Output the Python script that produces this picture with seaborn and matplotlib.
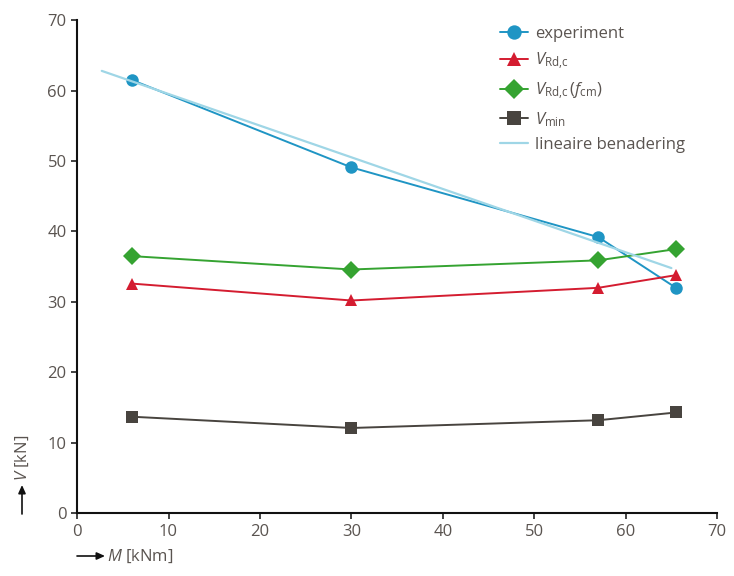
import pandas as pd
import numpy as np
import matplotlib
matplotlib.use("Agg")
import matplotlib.pyplot as plt
import seaborn as sns
from matplotlib.patches import FancyArrowPatch

# M [kNm] values of the four tests
moment = [6.0, 30.0, 57.0, 65.5]

# V [kN] per series
v_experiment = [61.5, 49.1, 39.2, 32.0]
v_rdc = [32.6, 30.2, 32.0, 33.8]
v_rdc_fcm = [36.5, 34.6, 35.9, 37.5]
v_min = [13.7, 12.1, 13.2, 14.3]

# linear approximation (end points)
fit_m = [2.7, 65.0]
fit_v = [62.8, 34.8]

x_ticks = [0, 10, 20, 30, 40, 50, 60, 70]
y_ticks = [0, 10, 20, 30, 40, 50, 60, 70]

sns.set_style("ticks")
plt.rcParams['font.family'] = ['Open Sans', 'DejaVu Sans']
plt.rcParams['mathtext.fontset'] = 'custom'
plt.rcParams['mathtext.rm'] = 'Open Sans'
plt.rcParams['mathtext.it'] = 'Open Sans:italic'

TEXT = "#5a5450"

fig = plt.figure(figsize=(7.34, 5.76), dpi=100)
ax = fig.add_axes([0.105, 0.109, 0.872, 0.856])

series = [
    ("experiment", v_experiment, "#1f95c4", "o", 9),
    (r"$V_{\mathrm{Rd{,}c}}$", v_rdc, "#d41c30", "^", 9),
    (r"$V_{\mathrm{Rd{,}c}}\,(f_{\mathrm{cm}})$", v_rdc_fcm, "#35a331", "D", 9),
    (r"$V_{\mathrm{min}}$", v_min, "#48443f", "s", 9),
]
for label, vals, color, marker, ms in series:
    df = pd.DataFrame({"M": moment, "V": vals})
    sns.lineplot(data=df, x="M", y="V", ax=ax, color=color, marker=marker,
                 markersize=ms, markeredgewidth=0, linewidth=1.4, label=label)

fit_df = pd.DataFrame({"M": fit_m, "V": fit_v})
sns.lineplot(data=fit_df, x="M", y="V", ax=ax, color="#9fd6e6",
             linewidth=1.6, label="lineaire benadering")

ax.set_xlim(0, 70)
ax.set_ylim(0, 70)
ax.set_xticks(x_ticks)
ax.set_yticks(y_ticks)
ax.set_xlabel("")
ax.set_ylabel("")
ax.tick_params(labelsize=12, colors="#222222", labelcolor=TEXT, length=4, width=1.2)
for s in ["left", "bottom"]:
    ax.spines[s].set_linewidth(1.5)
    ax.spines[s].set_color("#111111")
sns.despine(ax=ax)

leg = ax.legend(loc="upper left", bbox_to_anchor=(0.637, 1.018), frameon=False,
                fontsize=12, handlelength=1.7, labelspacing=0.5, handletextpad=0.4,
                markerscale=1.15)
for t in leg.get_texts():
    t.set_color(TEXT)

# axis labels with arrows in front
arrow = dict(arrowstyle="-|>,head_length=0.4,head_width=0.18", color="#111111",
             lw=1.2, mutation_scale=12, shrinkA=0, shrinkB=0)
fig.add_artist(FancyArrowPatch(
    (22 / 734, 1 - 514 / 576), (22 / 734, 1 - 485 / 576),
    transform=fig.transFigure, **arrow))
fig.text(14 / 734, 1 - 481 / 576, "$V$ [kN]", rotation=90, va="bottom", ha="left",
         fontsize=12, color=TEXT)
fig.add_artist(FancyArrowPatch(
    (77 / 734, 1 - 556 / 576), (105 / 734, 1 - 556 / 576),
    transform=fig.transFigure, **arrow))
fig.text(107 / 734, 1 - 556 / 576, "$M$ [kNm]", va="center", ha="left",
         fontsize=12, color=TEXT)

fig.savefig("out.png", dpi=100)
